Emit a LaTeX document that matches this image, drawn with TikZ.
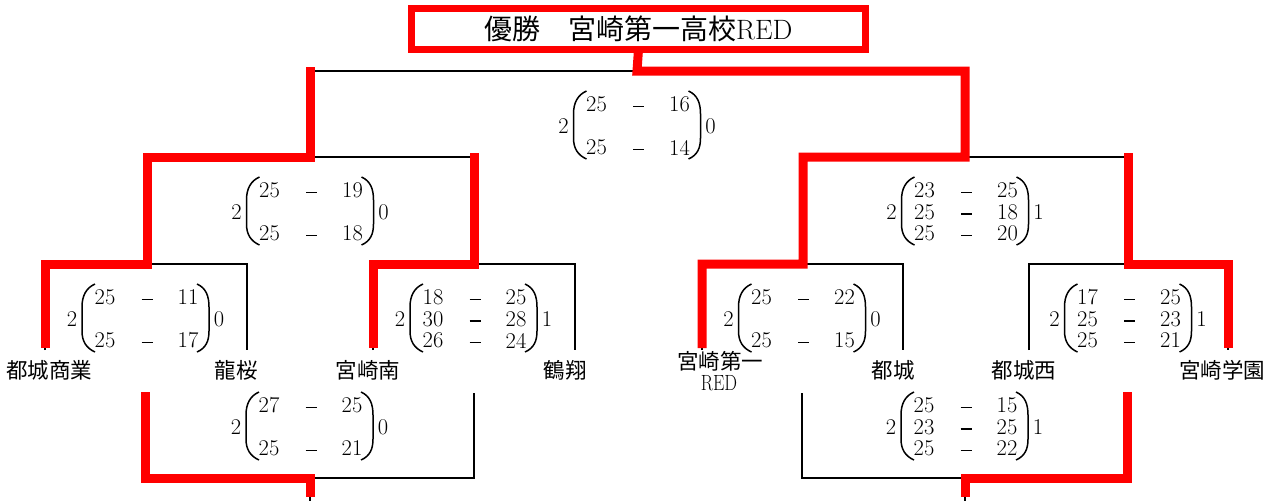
\documentclass[tikz,border=0pt]{standalone}
\usepackage{fontspec}
\newfontfamily\jp{Noto Sans CJK JP}
\usetikzlibrary{calc}
\tikzset{
  blk/.style={line width=2pt, black},
  redp/.style={line width=9pt, red, line cap=rect, line join=miter},
  paren/.style={line width=1.5pt, black},
  sc/.style={inner sep=0pt, font=\fontsize{22.5}{24}\selectfont},
  team/.style={inner sep=0pt, font=\jp\fontsize{21.5}{24}\selectfont, align=center}
}
% #1 name, #2 x, #3 y, #4 left score, #5 right score, #6 rows r/a/b
\newcommand\mset[6]{%
  \begin{scope}[shift={(#2,#3)}]
    \node[sc] (#1-l) at (-74,0) {#4};
    \node[sc] (#1-r) at (73,0) {#5};
    \foreach \r/\a/\b in {#6} {
      \node[sc] (#1-a\r) at (-41,\r*21.5) {\a};
      \node[sc] (#1-d\r) at (1,\r*21.5) {\vphantom{0}\rule[4.5pt]{11pt}{1.4pt}};
      \node[sc] (#1-b\r) at (42,\r*21.5) {\b};
    }
    \draw[paren] (-51,-35) .. controls (-60,-31) and (-64,-23) .. (-64,-12) -- (-64,12) .. controls (-64,22) and (-60,29) .. (-51,33);
    \draw[paren] (51,-35) .. controls (60,-31) and (63,-23) .. (63,-12) -- (63,12) .. controls (63,22) and (60,29) .. (51,33);
  \end{scope}}
\begin{document}
\begin{tikzpicture}[x=1pt,y=-1pt]
\useasboundingbox[fill=white] (0,0) rectangle (1279,501);
% coordinates of the bracket
\coordinate (T) at (637,71);
\coordinate (M1) at (310,157);
\coordinate (M2) at (965,157);
\coordinate (L1) at (147,264);
\coordinate (L2) at (474,264);
\coordinate (L3) at (803,264);
\coordinate (L4) at (1128,264);
\coordinate (t1) at (45,350);
\coordinate (t2) at (247,350);
\coordinate (t3) at (373,350);
\coordinate (t4) at (575,350);
\coordinate (t5) at (702,350);
\coordinate (t6) at (903,350);
\coordinate (t7) at (1029,350);
\coordinate (t8) at (1228,350);
\coordinate (B1) at (310,478);
\coordinate (B2) at (965,478);
\coordinate (b1) at (145,393);
\coordinate (b2) at (474,393);
\coordinate (b3) at (802,393);
\coordinate (b4) at (1127,393);
\coordinate (B1e) at (310,501);
\coordinate (B2e) at (965,501);
% title
\node[draw=red, line width=7pt, minimum width=453.5pt, minimum height=41pt, inner sep=0pt,
      font=\fontsize{28}{32}\selectfont] (title) at (638.25,29) {{\jp 優勝　宮崎第一高校}RED};
% black bracket
\draw[blk] (title.south) -- (T);
\draw[blk] (M1) |- (T) -| (M2);
\draw[blk] (L1) |- (M1) -| (L2);
\draw[blk] (L3) |- (M2) -| (L4);
\draw[blk] (t1) |- (L1) -| (t2);
\draw[blk] (t3) |- (L2) -| (t4);
\draw[blk] (t5) |- (L3) -| (t6);
\draw[blk] (t7) |- (L4) -| (t8);
\draw[blk] (b1) |- (B1) -| (b2);
\draw[blk] (b3) |- (B2) -| (b4);
\draw[blk] (B1) -- (B1e);
\draw[blk] (B2) -- (B2e);
% red paths
\draw[redp, shorten >=6.5pt] (title.south) -- (T) -| (M2) -| (L3) -| (t5);
\draw[redp, shorten >=6.5pt] (M1 |- T) -- (M1) -| (L1) -| (t1);
\draw[redp, shorten >=6.5pt] (M1 -| L2) -- (L2) -| (t3);
\draw[redp, shorten >=6.5pt] (M2 -| L4) -- (L4) -| (t8);
\draw[redp, shorten <=3pt, shorten >=8.5pt] (b1) |- (B1) -- (B1e);
\draw[redp, shorten <=3pt, shorten >=8.5pt] (b4) |- (B2) -- (B2e);
% scores
\mset{m1}{637.5}{126}{2}{0}{-1/25/16, 1/25/14}
\mset{m2}{310.5}{212}{2}{0}{-1/25/19, 1/25/18}
\mset{m3}{965.5}{212}{2}{1}{-1/23/25, 0/25/18, 1/25/20}
\mset{m4}{146}{319}{2}{0}{-1/25/11, 1/25/17}
\mset{m5}{474}{319}{2}{1}{-1/18/25, 0/30/28, 1/26/24}
\mset{m6}{802.5}{319}{2}{0}{-1/25/22, 1/25/15}
\mset{m7}{1128.5}{319}{2}{1}{-1/17/25, 0/25/23, 1/25/21}
\mset{m8}{310}{427}{2}{0}{-1/27/25, 1/25/21}
\mset{m9}{965}{427}{2}{1}{-1/25/15, 0/23/25, 1/25/22}
% teams
\node[team] (n1) at (49,370) {都城商業};
\node[team] (n2) at (236,370) {龍桜};
\node[team] (n3) at (368,370) {宮崎南};
\node[team] (n4) at (565,370) {鶴翔};
\node[team] (n5) at (720,361) {宮崎第一};
\node[inner sep=0pt, font=\rmfamily\fontsize{22}{24}\selectfont, xscale=0.82, transform shape] (n5b) at (719,383) {RED};
\node[team] (n6) at (893,370) {都城};
\node[team] (n7) at (1024,370) {都城西};
\node[team] (n8) at (1222,370) {宮崎学園};
\end{tikzpicture}
\end{document}
